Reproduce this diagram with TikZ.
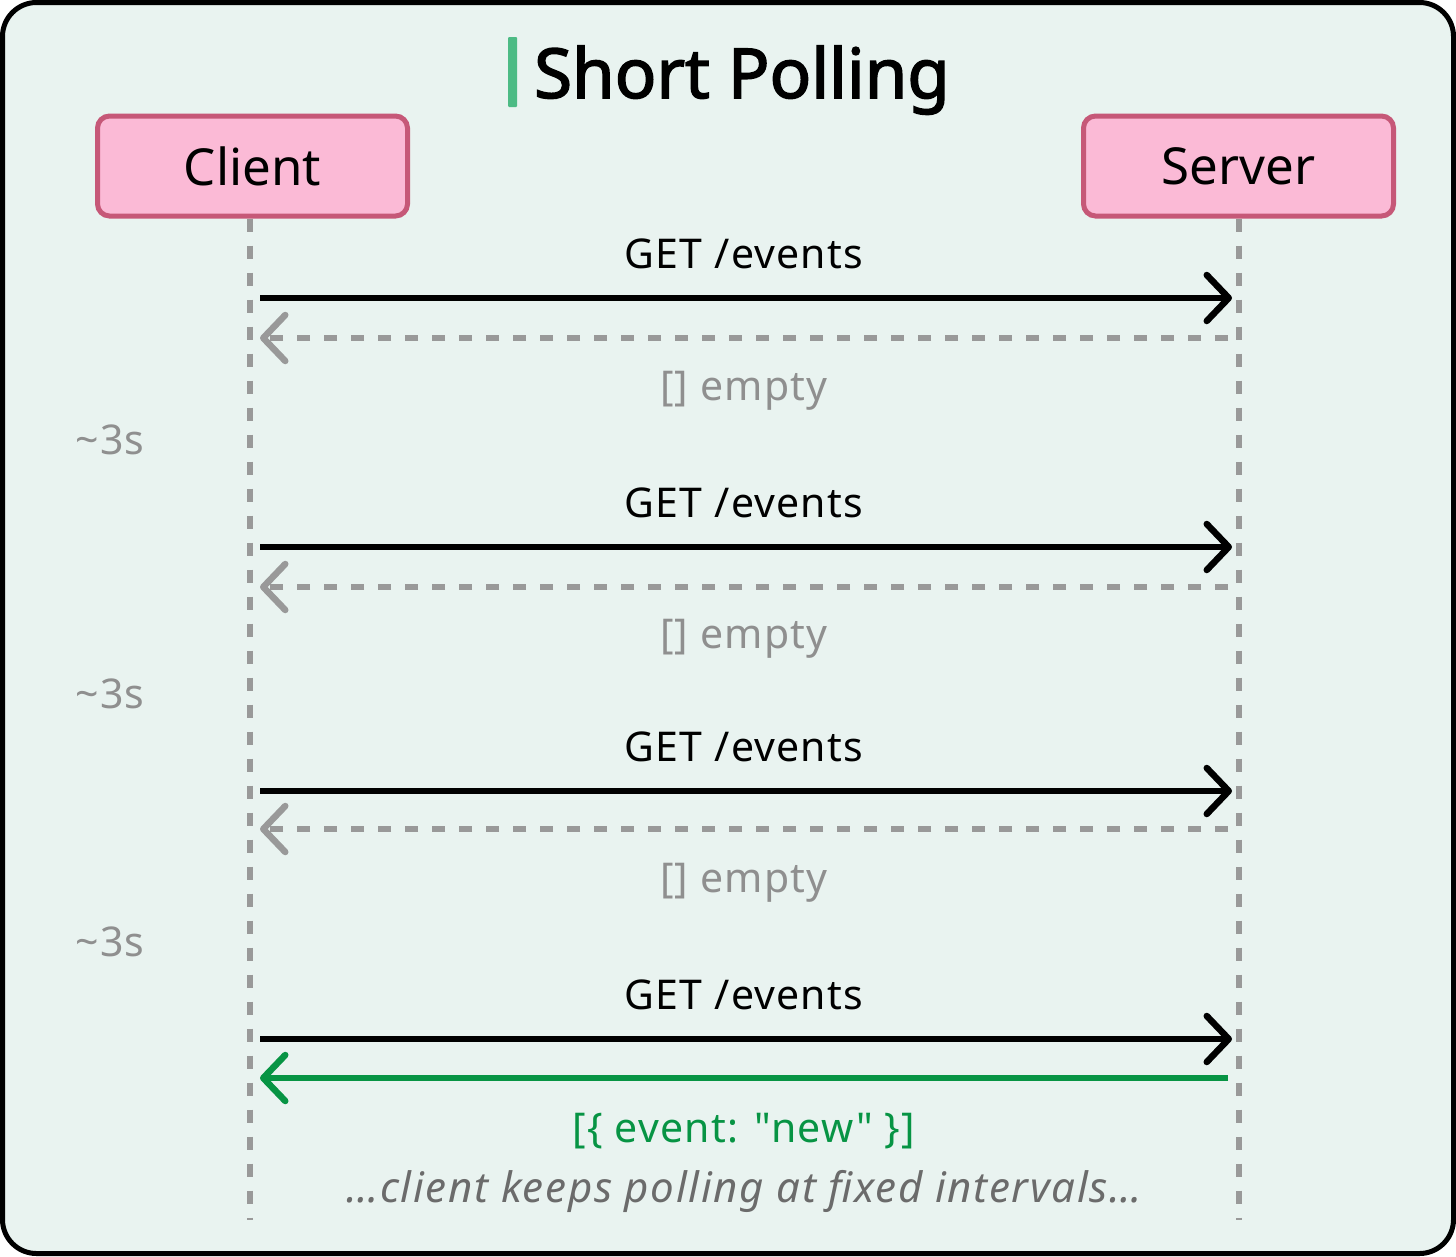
\documentclass[tikz,border=0pt]{standalone}
\usepackage{fontspec}
\setmainfont{Noto Sans}
\newfontfamily\headfont{Noto Sans}[FakeBold=2.2]
\usetikzlibrary{arrows.meta}

\definecolor{mintbg}{HTML}{E9F3F0}
\definecolor{actorfill}{HTML}{FBBAD6}
\definecolor{actorline}{HTML}{C65878}
\definecolor{titlegreen}{HTML}{4DBB85}
\definecolor{lifegray}{HTML}{999999}
\definecolor{notegray}{HTML}{8F8F8F}
\definecolor{italgray}{HTML}{6B6B6B}
\definecolor{eventgreen}{HTML}{079444}

\tikzset{
  actor/.style={draw=actorline, fill=actorfill, line width=5pt, rounded corners=12pt,
    minimum width=310pt, minimum height=100pt, inner sep=0pt, font=\fontsize{51}{60}\selectfont},
  lifeline/.style={draw=lifegray, line width=6pt, dash pattern=on 13pt off 14pt},
  barb/.style={-{Straight Barb[length=22pt,width=46pt,round]}},
  request/.style={barb, draw=black, line width=6.5pt},
  reply/.style={barb, draw=lifegray, line width=6.5pt, dash pattern=on 13pt off 14pt},
  answer/.style={barb, draw=eventgreen, line width=6.5pt},
  msg/.style={anchor=base, inner sep=0pt, font=\fontsize{41}{48}\selectfont\addfontfeature{LetterSpace=3}},
}

\begin{document}
\begin{tikzpicture}[x=1pt, y=-1pt]
  \useasboundingbox (0,0) rectangle (1456,1256);
  % frame
  \draw[fill=mintbg, line width=5pt, rounded corners=34pt] (2.5,2.5) rectangle (1453.5,1253.5);

  % title
  \fill[titlegreen, rounded corners=1pt] (508,37) rectangle (517,107);
  \node[anchor=base, inner sep=0pt, font=\fontsize{69}{80}\headfont] (title) at (742,98) {Short Polling};

  % actors
  \node[actor] (client) at (252.5,166) {Client};
  \node[actor] (server) at (1238.5,166) {Server};
  \coordinate (clientend) at (250,1220);
  \coordinate (serverend) at (1239,1220);
  \draw[lifeline] (client.south) ++(-2.5,0) -- (clientend);
  \draw[lifeline] (server.south) ++(0.5,0) -- (serverend);

  % polls
  \foreach \i/\q/\r in {1/298/338, 2/547/587, 3/791/829, 4/1039/1078}{
    \coordinate (cq\i) at (260,\q);
    \coordinate (sq\i) at (1232,\q);
    \coordinate (sr\i) at (1228,\r);
    \coordinate (cr\i) at (260,\r);
    \node[msg] (get\i) at (744,\q-30) {GET /events};
    \draw[request] (cq\i) -- (sq\i);
  }
  \foreach \i/\r/\e/\w in {1/338/400/454, 2/587/648/708, 3/829/892/956}{
    \draw[reply] (sr\i) -- (cr\i);
    \node[msg, text=notegray] (empty\i) at (744,\e) {[] empty};
    \node[msg, text=notegray] (wait\i) at (110,\w) {\textasciitilde 3s};
  }

  % final answer
  \draw[answer] (sr4) -- (cr4);
  \node[msg, text=eventgreen] (event) at (744,1142) {\addfontfeature{Ligatures=TeXOff}[\{ event: "new" \}]};
  \node[msg, text=italgray, font=\fontsize{42}{48}\selectfont\itshape\addfontfeature{LetterSpace=4}] (note) at (744,1202) {\dots client keeps polling at fixed intervals\dots};
\end{tikzpicture}
\end{document}
